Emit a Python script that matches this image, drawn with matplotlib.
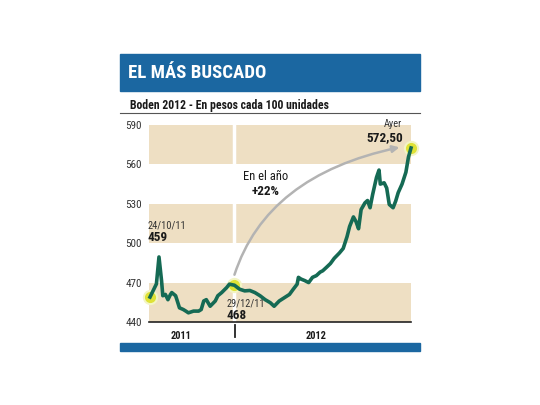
import matplotlib
matplotlib.use("Agg")
import matplotlib.pyplot as plt
from matplotlib.patches import Rectangle
from matplotlib.lines import Line2D

plt.rcParams["font.family"] = ["Roboto Condensed", "Liberation Sans Narrow",
                               "Roboto", "DejaVu Sans"]

# Boden 2012, days since 24/10/11 and price (pesos per 100 units)
dias = [0, 3, 5, 7, 9, 10, 12, 14, 16, 17, 20, 21, 23, 26, 28, 30, 34, 38, 40,
        42, 44, 47, 51, 53, 56, 60, 62, 66, 70, 74, 78, 82, 86, 90, 94, 97,
        101, 105, 109, 112, 115, 116, 118, 121, 124, 127, 130, 133, 135, 138,
        141, 144, 148, 151, 154, 156, 159, 161, 163, 165, 168, 170, 172, 174,
        177, 179, 180, 183, 185, 187, 190, 192, 194, 197, 199, 200, 202, 204]
precio = [459, 465, 469, 489.5, 471.5, 460, 461, 457, 461, 462.4, 460, 457,
          450.8, 449.5, 448.3, 447, 448.3, 448.3, 449.5, 456, 457, 452, 456,
          460, 462.4, 466.3, 468.8, 468, 465, 463.7, 464, 462.4, 460, 457,
          454.7, 452, 456, 458.5, 461, 465, 468.8, 474, 472.7, 471.5, 470,
          474, 475.3, 478, 479, 481.7, 484.5, 488.5, 492.5, 496, 505, 512.7,
          520, 516.5, 511, 525.6, 530.7, 532.5, 527, 537, 550, 555.7, 545,
          546, 542, 529.5, 527, 532, 538.5, 545, 551, 554, 565.5, 572.5]

yticks = [440, 470, 500, 530, 560, 590]
bandas = [(440, 470), (500, 530), (560, 590)]
dia_corte = 66  # 29/12/11
anios = ["2011", "2012"]
anios_x = [24, 130]

W, H = 540, 405


def fx(px):
    return px / W


def fy(py):
    return 1 - py / H


fig = plt.figure(figsize=(5.4, 4.05), dpi=100)
fig.patch.set_facecolor("white")

# header bar and title
azul = "#1b67a1"
fig.patches.append(Rectangle((fx(120), fy(91)), 300 / W, 37 / H,
                             transform=fig.transFigure, color=azul))
fig.text(fx(128), fy(73), "EL MÁS BUSCADO", color="white", fontsize=13.5,
         fontweight="bold", va="center", ha="left")
fig.text(fx(130), fy(105), "Boden 2012 - En pesos cada 100 unidades",
         color="#1a1a1a", fontsize=8.5, fontweight="bold", va="center")
fig.lines.append(Line2D([fx(120), fx(420)], [fy(113), fy(113)],
                        transform=fig.transFigure, color="#555555", lw=0.8))
fig.patches.append(Rectangle((fx(120), fy(351)), 300 / W, 8 / H,
                             transform=fig.transFigure, color=azul))

ax = fig.add_axes([fx(149), fy(322), (411 - 149) / W, (322 - 125) / H])
ax.set_xlim(-0.8, 204)
ax.set_ylim(440, 590)

for lo, hi in bandas:
    ax.axhspan(lo, hi, color="#eedfc3", lw=0, zorder=0)
ax.axvline(dia_corte, color="white", lw=2.5, zorder=1)

ax.plot(dias, precio, color="#156a54", lw=2.6, zorder=4,
        solid_joinstyle="round", clip_on=False)

# highlighted points
for d, v in [(dias[0], precio[0]), (dia_corte, 468), (dias[-1], precio[-1])]:
    ax.plot(d, v, "o", ms=11, color="#f3f5c4", mec="none", zorder=2, clip_on=False)
    ax.plot(d, v, "o", ms=8, color="#dfe236", mec="none", zorder=3, clip_on=False)

# arrow for the year change
ax.annotate("", xy=(195, 573), xytext=(dia_corte, 476),
            arrowprops=dict(arrowstyle="-|>", color="#b3b3b3", lw=1.8,
                            shrinkA=0, shrinkB=0, mutation_scale=10,
                            connectionstyle="angle3,angleA=72,angleB=12"),
            zorder=2)

ax.text(90, 550.5, "En el año", fontsize=9, ha="center", va="center",
        color="#1a1a1a")
ax.text(90, 539.5, "+22%", fontsize=9.5, fontweight="bold", ha="center",
        va="center", color="#1a1a1a")
ax.text(-1.6, 513.8, "24/10/11", fontsize=7.5, ha="left", va="center", color="#333333")
ax.text(-1.6, 504, "459", fontsize=9.5, fontweight="bold", ha="left", va="center",
        color="#1a1a1a")
ax.text(60, 454, "29/12/11", fontsize=7.5, ha="left", va="center", color="#333333")
ax.text(60, 444.6, "468", fontsize=9.5, fontweight="bold", ha="left", va="center",
        color="#1a1a1a")
ax.text(197, 590.7, "Ayer", fontsize=7.5, ha="right", va="center", color="#333333")
ax.text(198, 580.7, "572,50", fontsize=9.5, fontweight="bold", ha="right",
        va="center", color="#1a1a1a")

ax.set_yticks(yticks)
ax.set_yticklabels([str(t) for t in yticks], fontsize=8, color="#333333")
ax.tick_params(axis="y", length=0, pad=5)
ax.set_xticks([])
for s in ["left", "right", "top"]:
    ax.spines[s].set_visible(False)
ax.spines["bottom"].set_color("#222222")
ax.spines["bottom"].set_linewidth(1.2)
ax.patch.set_alpha(0)

for lab, d in zip(anios, anios_x):
    ax.text(d, -0.07, lab, transform=ax.get_xaxis_transform(), fontsize=7.5,
            fontweight="bold", ha="center", va="center", color="#1a1a1a")
fig.lines.append(Line2D([fx(235), fx(235)], [fy(325), fy(337)],
                        transform=fig.transFigure, color="#222222", lw=1.3))

fig.savefig("out.png", dpi=100)
